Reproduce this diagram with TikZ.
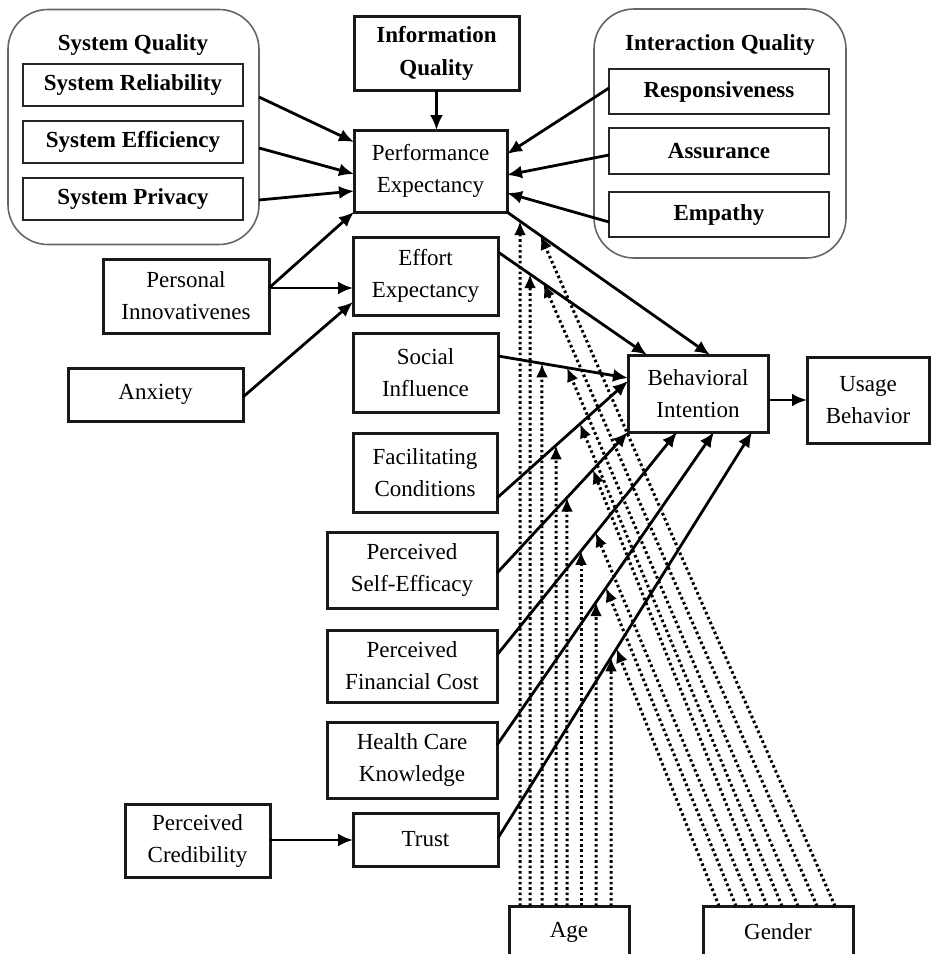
\documentclass[tikz,border=0pt]{standalone}
\usepackage{fontspec}
\setmainfont{Liberation Serif}
\usetikzlibrary{arrows.meta}
\begin{document}
\begin{tikzpicture}[x=1pt,y=-1pt,
  txt/.style={font=\fontsize{23}{32}\selectfont, align=center, inner sep=0pt, outer sep=0pt},
  bftxt/.style={font=\fontsize{23}{32}\selectfont\bfseries, align=center, inner sep=0pt, outer sep=0pt},
  bx/.style={txt, draw=black!90, line width=3pt},
  ibx/.style={bftxt, draw=black!85, line width=2pt, minimum width=220},
  grp/.style={draw=black!60, line width=1.6pt, rounded corners=40pt, inner sep=0pt, outer sep=0pt},
  arr/.style={line width=2.8pt, -{Latex[length=15pt,width=13pt]}},
  dotl/.style={line width=3pt, dash pattern=on 2.6pt off 2.8pt, -{Latex[length=14pt,width=12pt]}},
]
\fill[white] (0,0) rectangle (931,954);
\useasboundingbox (0,0) rectangle (931,954);

% groups
\node[grp, minimum width=251, minimum height=235] (sq) at (133.5,127) {};
\node[bftxt] (sqt) at (133,45) {System Quality};
\node[ibx, minimum height=42] (sr) at (133,85) {System Reliability};
\node[ibx, minimum height=42] (se) at (133,142) {System Efficiency};
\node[ibx, minimum height=42] (sp) at (133,199) {System Privacy};

\node[grp, minimum width=252, minimum height=249] (ig) at (720,133.5) {};
\node[bftxt] (igt) at (720,45) {Interaction Quality};
\node[ibx, minimum height=45] (rs) at (719,91.5) {Responsiveness};
\node[ibx, minimum height=46] (as) at (719,151) {Assurance};
\node[ibx, minimum height=45] (em) at (719,214.5) {Empathy};

% boxes
\node[bx, font=\fontsize{23}{33}\selectfont\bfseries, minimum width=165, minimum height=74] (iq) at (436.5,53) {Information\\Quality};
\node[bx, minimum width=153, minimum height=82] (pe) at (430.5,171) {Performance\\Expectancy};
\node[bx, minimum width=166, minimum height=74] (pi) at (186,296) {Personal\\Innovativenes};
\node[bx, minimum width=175, minimum height=53] (ax) at (155.5,394.5) {Anxiety};
\node[bx, minimum width=145, minimum height=78] (ee) at (425.5,276) {Effort\\Expectancy};
\node[bx, minimum width=145, minimum height=79] (si) at (425.5,372.5) {Social\\Influence};
\node[bx, minimum width=144, minimum height=79] (fc) at (425,472.5) {Facilitating\\Conditions};
\node[bx, minimum width=170, minimum height=76] (pse) at (412,570) {Perceived\\Self-Efficacy};
\node[bx, minimum width=170, minimum height=72] (pfc) at (412,666) {Perceived\\Financial Cost};
\node[bx, minimum width=170, minimum height=76] (hck) at (412,760) {Health Care\\Knowledge};
\node[bx, minimum width=145, minimum height=53] (tr) at (425.5,839.5) {Trust};
\node[bx, minimum width=145, minimum height=73] (pc) at (197.5,840.5) {Perceived\\Credibility};
\node[bx, minimum width=140, minimum height=77] (bi) at (698,393.5) {Behavioral\\Intention};
\node[bx, minimum width=122, minimum height=86] (ub) at (868,400) {Usage\\Behavior};
\node[bx, minimum width=120, minimum height=52] (age) at (569,932) {Age};
\node[bx, minimum width=150, minimum height=52] (gd) at (778,932) {Gender};

% endpoints of the lines into Behavioral Intention
\coordinate (pe1) at (pe.south east);
\coordinate (bi1) at (bi.north -| 710,0);
\coordinate (ee1) at (ee.east |- 0,252);
\coordinate (bi2) at (bi.north -| 647,0);
\coordinate (si1) at (si.east |- 0,356);
\coordinate (bi3) at (bi.west |- 0,378);
\coordinate (fc1) at (fc.east |- 0,498);
\coordinate (bi4) at (bi.west |- 0,381);
\coordinate (pse1) at (pse.east |- 0,573);
\coordinate (bi5) at (bi.south west);
\coordinate (pfc1) at (pfc.east |- 0,655);
\coordinate (bi6) at (bi.south -| 677,0);
\coordinate (hck1) at (hck.east |- 0,745);
\coordinate (bi7) at (bi.south -| 714,0);
\coordinate (tr1) at (tr.east |- 0,838);
\coordinate (bi8) at (bi.south -| 752,0);

% moderators: Age
\foreach \x/\a/\b [count=\i] in {520/pe1/bi1, 530/ee1/bi2, 542/si1/bi3, 556/fc1/bi4, 567/pse1/bi5, 581/pfc1/bi6, 596/hck1/bi7, 611/tr1/bi8}{
  \coordinate (am\i) at (intersection cs: first line={(\x,905)--(\x,0)}, second line={(\a)--(\b)});
  \draw[dotl] (age.north -| \x,0) -- (am\i);
}
% moderators: Gender
\foreach \x/\k/\a/\b [count=\i] in {835/0.44/pe1/bi1, 817/0.44/ee1/bi2, 798/0.43/si1/bi3, 782/0.42/fc1/bi4, 767/0.40/pse1/bi5, 752/0.42/pfc1/bi6, 736/0.41/hck1/bi7, 719/0.40/tr1/bi8}{
  \coordinate (gm\i) at (intersection cs: first line={(\x,905)--({\x-800*\k},105)}, second line={(\a)--(\b)});
  \draw[dotl] (gd.north -| \x,0) -- (gm\i);
}

% solid connectors
\draw[arr] (iq.south) -- (iq.south |- pe.north);
\draw[arr] (sq.east |- 0,97) -- (pe.west |- 0,142);
\draw[arr] (sq.east |- 0,148) -- (pe.west |- 0,174);
\draw[arr] (sq.east |- 0,200) -- (pe.west |- 0,191);
\draw[arr] (rs.west |- 0,88) -- (pe.east |- 0,154);
\draw[arr] (as.west |- 0,155) -- (pe.east |- 0,175);
\draw[arr] (em.west |- 0,222) -- (pe.east |- 0,193);
\draw[arr] (pi.east |- 0,288) -- (pe.south west);
\draw[arr] (pi.east |- 0,288) -- (ee.west |- 0,288);
\draw[arr] (ax.east |- 0,397) -- (ee.west |- 0,302);
\draw[arr] (pc.east |- 0,840) -- (tr.west |- 0,840);
\draw[arr] (bi.east |- 0,400) -- (ub.west |- 0,400);

\draw[arr] (pe1) -- (bi1);
\draw[arr] (ee1) -- (bi2);
\draw[arr] (si1) -- (bi3);
\draw[arr] (fc1) -- (bi4);
\draw[arr] (pse1) -- (bi5);
\draw[arr] (pfc1) -- (bi6);
\draw[arr] (hck1) -- (bi7);
\draw[arr] (tr1) -- (bi8);
\end{tikzpicture}
\end{document}
